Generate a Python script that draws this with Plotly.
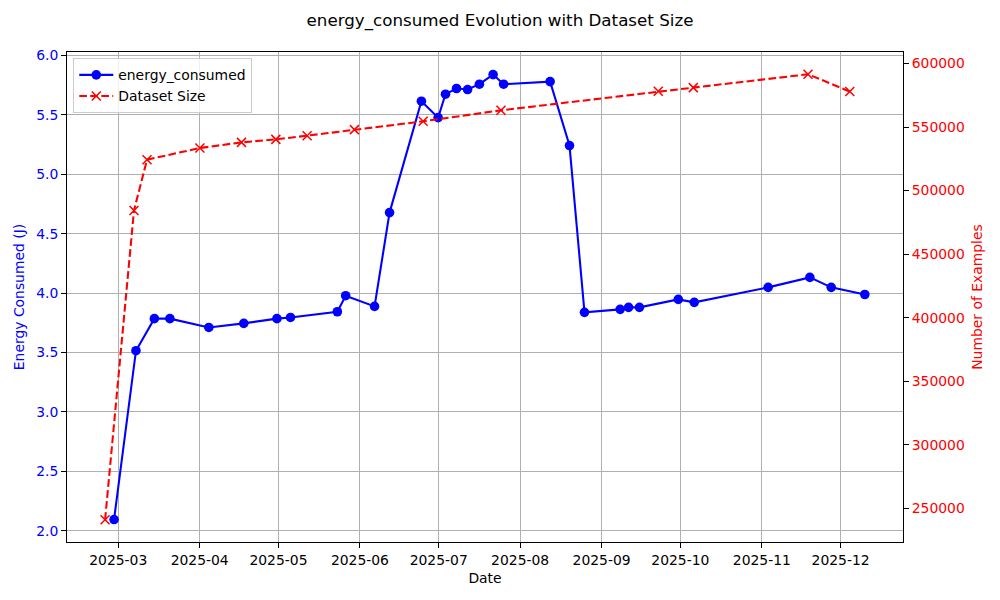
import plotly.graph_objects as go

# ---- data ----
energy_dates = [
    "2025-02-27 10:00", "2025-03-07 18:00", "2025-03-14 18:00", "2025-03-20 16:00",
    "2025-04-04 12:00", "2025-04-17 19:00", "2025-04-30 10:00", "2025-05-05 14:00",
    "2025-05-23 10:00", "2025-05-26 14:00", "2025-06-06 14:00", "2025-06-12 07:00",
    "2025-06-24 10:00", "2025-06-30 19:00", "2025-07-03 14:00", "2025-07-07 19:00",
    "2025-07-12 00:00", "2025-07-16 12:00", "2025-07-21 17:00", "2025-07-25 17:00",
    "2025-08-12 10:00", "2025-08-19 19:00", "2025-08-25 12:00", "2025-09-08 02:00",
    "2025-09-11 07:00", "2025-09-15 10:00", "2025-09-30 05:00", "2025-10-06 07:00",
    "2025-11-03 10:00", "2025-11-19 07:00", "2025-11-27 10:00", "2025-12-10 05:00",
]
energy_values = [
    2.095, 3.515, 3.785, 3.785, 3.711, 3.745, 3.785, 3.795,
    3.843, 3.978, 3.888, 4.677, 5.614, 5.476, 5.673, 5.721,
    5.712, 5.757, 5.838, 5.757, 5.779, 5.241, 3.838, 3.863,
    3.880, 3.880, 3.947, 3.922, 4.048, 4.132, 4.048, 3.988,
]

size_dates = [
    "2025-02-24 00:00", "2025-03-07 00:00", "2025-03-11 23:00", "2025-04-01 02:00",
    "2025-04-16 22:00", "2025-04-30 00:00", "2025-05-11 22:00", "2025-05-29 22:00",
    "2025-06-25 02:00", "2025-07-24 17:00", "2025-09-22 14:00", "2025-10-05 22:00",
    "2025-11-18 14:00", "2025-12-04 12:00",
]
size_values = [
    241100, 484400, 524300, 533500, 537950, 540300, 543200, 547950,
    554500, 563150, 578100, 581000, 591500, 577900,
]

left_ticks = [2.0, 2.5, 3.0, 3.5, 4.0, 4.5, 5.0, 5.5, 6.0]
right_ticks = [250000, 300000, 350000, 400000, 450000, 500000, 550000, 600000]

title_text = "energy_consumed Evolution with Dataset Size"
FONT = "DejaVu Sans"

fig = go.Figure()
fig.add_trace(go.Scatter(
    x=energy_dates, y=energy_values, name="energy_consumed",
    mode="lines+markers",
    line=dict(color="#0000ff", width=2.08),
    marker=dict(symbol="circle", size=9.6, color="#0000ff"),
    yaxis="y",
))
fig.add_trace(go.Scatter(
    x=size_dates, y=size_values, name="Dataset Size",
    mode="lines+markers",
    line=dict(color="#ff0000", width=2.08, dash="7.7px,3.3px"),
    marker=dict(symbol="x-thin-open", size=9, color="#ff0000",
                line=dict(color="#ff0000", width=1.5)),
    yaxis="y2",
))

fig.update_layout(
    width=1000, height=600,
    paper_bgcolor="white", plot_bgcolor="white",
    margin=dict(l=67, r=97, t=52, b=58),
    font=dict(family=FONT, size=13.9, color="black"),
    title=dict(text=title_text, x=0.5, xanchor="center", y=1 - 20 / 600,
               yanchor="middle", font=dict(family=FONT, size=16.7, color="black")),
    showlegend=True,
    legend=dict(x=0.0075, y=0.987, xanchor="left", yanchor="top",
                bgcolor="rgba(255,255,255,0.8)", bordercolor="#cccccc", borderwidth=1,
                font=dict(family=FONT, size=13.9, color="black"),
                tracegroupgap=0, itemwidth=34),
    xaxis=dict(
        type="date",
        range=["2025-02-09 12:00", "2025-12-24 18:00"],
        tick0="2025-01-01", dtick="M1", tickformat="%Y-%m",
        showgrid=True, gridcolor="#b0b0b0", gridwidth=1.1,
        showline=True, linecolor="black", linewidth=1.1, mirror=True,
        ticks="outside", ticklen=4.9, tickcolor="black", tickwidth=1.1,
        tickfont=dict(family=FONT, size=13.9, color="black"),
        title=dict(text="Date", font=dict(family=FONT, size=13.9, color="black"), standoff=6),
        zeroline=False,
    ),
    yaxis=dict(
        range=[1.906, 6.028],
        tickvals=left_ticks, tickformat=".1f",
        showgrid=True, gridcolor="#b0b0b0", gridwidth=1.1,
        showline=True, linecolor="black", linewidth=1.1,
        ticks="outside", ticklen=4.9, tickcolor="black", tickwidth=1.1,
        tickfont=dict(family=FONT, size=13.9, color="#0000ff"),
        title=dict(text="Energy Consumed (J)", font=dict(family=FONT, size=13.9, color="#0000ff"), standoff=8),
        zeroline=False,
    ),
    yaxis2=dict(
        overlaying="y", side="right",
        range=[223580, 609020],
        tickvals=right_ticks, tickformat="d",
        showgrid=False,
        showline=True, linecolor="black", linewidth=1.1,
        ticks="outside", ticklen=4.9, tickcolor="black", tickwidth=1.1,
        tickfont=dict(family=FONT, size=13.9, color="#ff0000"),
        title=dict(text="Number of Examples", font=dict(family=FONT, size=13.9, color="#ff0000"), standoff=8),
        zeroline=False,
    ),
)

fig.write_html(
    "out.html",
    config={"displayModeBar": False},
    post_script="document.body.style.margin='0';document.body.style.padding='0';",
)
